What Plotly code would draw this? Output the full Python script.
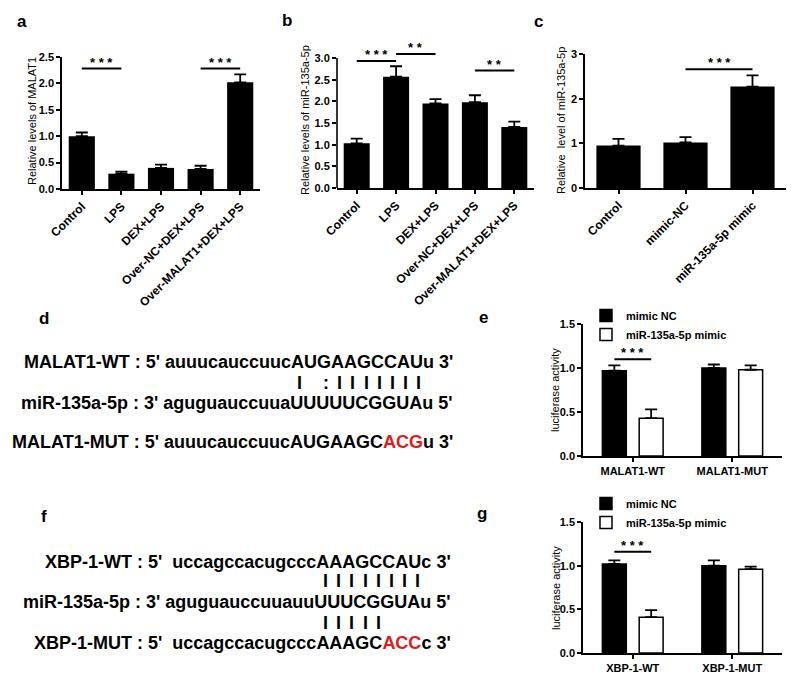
import plotly.graph_objects as go

W, H = 800, 680
FONT = "Liberation Sans, Arial, Helvetica, sans-serif"
RED = "#e41a1c"

# ---------------- data ----------------
groups_ab = ["Control", "LPS", "DEX+LPS", "Over-NC+DEX+LPS", "Over-MALAT1+DEX+LPS"]
malat1_mean = [1.00, 0.29, 0.40, 0.38, 2.02]
malat1_err = [0.07, 0.04, 0.06, 0.06, 0.15]

mir_b_mean = [1.03, 2.57, 1.95, 1.98, 1.41]
mir_b_err = [0.11, 0.24, 0.10, 0.16, 0.12]

groups_c = ["Control", "mimic-NC", "miR-135a-5p mimic"]
mir_c_mean = [0.95, 1.02, 2.27]
mir_c_err = [0.15, 0.12, 0.25]

groups_e = ["MALAT1-WT", "MALAT1-MUT"]
luc_e_nc = [0.97, 1.00]
luc_e_nc_err = [0.06, 0.04]
luc_e_mimic = [0.43, 0.98]
luc_e_mimic_err = [0.10, 0.05]

groups_g = ["XBP-1-WT", "XBP-1-MUT"]
luc_g_nc = [1.02, 1.00]
luc_g_nc_err = [0.04, 0.06]
luc_g_mimic = [0.41, 0.96]
luc_g_mimic_err = [0.08, 0.03]

legend_names = ["mimic NC", "miR-135a-5p mimic"]

y_titles = ["Relative levels of MALAT1", "Relative levels of miR-135a-5p",
            "Relative\u00a0 level of miR-135a-5p", "luciferase activity", "luciferase activity"]

# significance: (from index, to index, y value, label)
sig_ab_a = [(0, 1, 2.28, "* * *"), (3, 4, 2.28, "* * *")]
sig_ab_b = [(0, 1, 2.93, "* * *"), (1, 2, 3.09, "* *"), (3, 4, 2.71, "* *")]
sig_c = [(1, 2, 2.66, "* * *")]
sig_e = [(0, 1.10, "* * *")]
sig_g = [(0, 1.16, "* * *")]

# sequences (normal part, mutated red part, tail)
seq_d = [
    ("MALAT1-WT : 5' auuucauccuucAUGAAGCCAUu 3'", "", ""),
    ("miR-135a-5p : 3' aguguauccuuaUUUUUCGGUAu 5'", "", ""),
    ("MALAT1-MUT : 5' auuucauccuucAUGAAGC", "ACG", "u 3'"),
]
seq_f = [
    ("XBP-1-WT : 5'\u00a0 uccagccacugcccAAAGCCAUc 3'", "", ""),
    ("miR-135a-5p : 3' aguguauccuuauuUUUCGGUAu 5'", "", ""),
    ("XBP-1-MUT : 5'\u00a0 uccagccacugcccAAAGC", "ACC", "c 3'"),
]
pair_d = ["I", "", ":", "I", "I", "I", "I", "I", "I", "I"]
pair_f1 = ["I", "I", "I", "I", "I", "I", "I", "I"]
pair_f2 = ["I", "I", "I", "I", "I"]

# ---------------- layout helpers ----------------
def fx(px):
    return px / W


def fy(py):
    return 1 - py / H


def vdomain(py0, py_val, val, top):
    """domain so that value 0 sits at py0 and `val` at py_val, range up to `top`"""
    scale = (py0 - py_val) / val
    return [fy(py0), fy(py0 - top * scale)]


tickfont = dict(family=FONT, size=11, color="black", weight="bold")
xtickfont_rot = dict(family=FONT, size=12, color="black", weight="bold")
titlefont = dict(family=FONT, size=11, color="black")


def xaxis(dom, anchor, n, angle=0, font=tickfont):
    return dict(domain=dom, anchor=anchor, range=[-0.5, n - 0.5], showline=True,
                linecolor="black", linewidth=1.6, ticks="outside", ticklen=4,
                tickwidth=1.5, tickcolor="black", tickfont=font, tickangle=angle,
                showgrid=False, zeroline=False, automargin=False, fixedrange=True)


def yaxis(dom, anchor, rng, dtick, fmt, showline=True):
    return dict(domain=dom, anchor=anchor, range=rng, dtick=dtick, tick0=0,
                tickformat=fmt, showline=showline, linecolor="black", linewidth=1.6,
                ticks="outside", ticklen=4, tickwidth=1.5, tickcolor="black",
                tickfont=tickfont, showgrid=False, zeroline=False, automargin=False,
                fixedrange=True)


fig = go.Figure()

ebar = dict(type="data", symmetric=False, color="black", thickness=1.8, width=6)

# panel a
fig.add_trace(go.Bar(x=groups_ab, y=malat1_mean, width=0.66,
                     error_y=dict(ebar, array=malat1_err, arrayminus=[0] * 5),
                     marker=dict(color="black", line=dict(width=0)),
                     xaxis="x", yaxis="y", showlegend=False))
# panel b
fig.add_trace(go.Bar(x=groups_ab, y=mir_b_mean, width=0.66,
                     error_y=dict(ebar, array=mir_b_err, arrayminus=[0] * 5),
                     marker=dict(color="black", line=dict(width=0)),
                     xaxis="x2", yaxis="y2", showlegend=False))
# panel c
fig.add_trace(go.Bar(x=groups_c, y=mir_c_mean, width=0.66,
                     error_y=dict(ebar, array=mir_c_err, arrayminus=[0] * 3),
                     marker=dict(color="black", line=dict(width=0)),
                     xaxis="x3", yaxis="y3", showlegend=False))
# panel e
fig.add_trace(go.Bar(x=groups_e, y=luc_e_nc, name=legend_names[0],
                     error_y=dict(ebar, array=luc_e_nc_err, arrayminus=[0] * 2),
                     marker=dict(color="black", line=dict(color="black", width=1.5)),
                     xaxis="x4", yaxis="y4", legend="legend"))
fig.add_trace(go.Bar(x=groups_e, y=luc_e_mimic, name=legend_names[1],
                     error_y=dict(ebar, array=luc_e_mimic_err, arrayminus=[0] * 2),
                     marker=dict(color="white", line=dict(color="black", width=1.5)),
                     xaxis="x4", yaxis="y4", legend="legend"))
# panel g
fig.add_trace(go.Bar(x=groups_g, y=luc_g_nc, name=legend_names[0],
                     error_y=dict(ebar, array=luc_g_nc_err, arrayminus=[0] * 2),
                     marker=dict(color="black", line=dict(color="black", width=1.5)),
                     xaxis="x5", yaxis="y5", legend="legend2"))
fig.add_trace(go.Bar(x=groups_g, y=luc_g_mimic, name=legend_names[1],
                     error_y=dict(ebar, array=luc_g_mimic_err, arrayminus=[0] * 2),
                     marker=dict(color="white", line=dict(color="black", width=1.5)),
                     xaxis="x5", yaxis="y5", legend="legend2"))

BARGAP = 0.26
BARGROUPGAP = 0.35
half_off = (1 - BARGAP) / 4

# axes
dom_a_y = vdomain(189, 57, 2.5, 2.5)
dom_b_y = vdomain(188, 58, 3.0, 3.15)
dom_c_y = vdomain(188, 54, 3.0, 3.0)
dom_e_y = vdomain(456, 324, 1.5, 1.5)
dom_g_y = vdomain(653, 522, 1.5, 1.5)

legfont = dict(family=FONT, size=11, color="black", weight="bold")

layout = dict(
    width=W, height=H, margin=dict(l=0, r=0, t=0, b=0),
    paper_bgcolor="white", plot_bgcolor="white",
    barmode="group", bargap=BARGAP, bargroupgap=BARGROUPGAP,
    font=dict(family=FONT, color="black"),
    xaxis=xaxis([fx(62), fx(260)], "y", 5, -45, xtickfont_rot),
    yaxis=yaxis(dom_a_y, "x", [0, 2.5], 0.5, ".1f"),
    xaxis2=xaxis([fx(337), fx(534)], "y2", 5, -45, xtickfont_rot),
    yaxis2=yaxis(dom_b_y, "x2", [0, 3.15], 0.5, ".1f", showline=False),
    xaxis3=xaxis([fx(585), fx(786)], "y3", 3, -45, xtickfont_rot),
    yaxis3=yaxis(dom_c_y, "x3", [0, 3.0], 1, "d"),
    xaxis4=xaxis([fx(583), fx(782)], "y4", 2, 0),
    yaxis4=yaxis(dom_e_y, "x4", [0, 1.5], 0.5, ".1f"),
    xaxis5=xaxis([fx(583), fx(782)], "y5", 2, 0),
    yaxis5=yaxis(dom_g_y, "x5", [0, 1.5], 0.5, ".1f"),
    legend=dict(x=fx(586), y=fy(301), xanchor="left", yanchor="top", font=legfont,
                bgcolor="rgba(0,0,0,0)", tracegroupgap=0, itemwidth=30),
    legend2=dict(x=fx(586), y=fy(489), xanchor="left", yanchor="top", font=legfont,
                 bgcolor="rgba(0,0,0,0)", tracegroupgap=0, itemwidth=30),
)
fig.update_layout(**layout)

shapes = []
annotations = []

# y axis line for panel b (ends at 3.0 while range leaves room for brackets)
b_y3 = dom_b_y[0] + 3.0 / 3.15 * (dom_b_y[1] - dom_b_y[0])
shapes.append(dict(type="line", xref="x2 domain", x0=0, x1=0, yref="paper",
                   y0=dom_b_y[0], y1=b_y3, line=dict(color="black", width=1.6)))

# y axis titles (rotated text beside each axis)
title_pos = [(32, 121), (305, 120), (561, 121), (555, 390), (556, 588)]
for t, (px, py) in zip(y_titles, title_pos):
    annotations.append(dict(xref="paper", yref="paper", x=fx(px), y=fy(py), text=t,
                            textangle=-90, showarrow=False, xanchor="center",
                            yanchor="middle", font=titlefont))


def add_sig(xr, yr, x0, x1, yv, label):
    shapes.append(dict(type="line", xref=xr, yref=yr, x0=x0, x1=x1, y0=yv, y1=yv,
                       line=dict(color="black", width=2)))
    annotations.append(dict(xref=xr, yref=yr, x=(x0 + x1) / 2, y=yv, text=label,
                            showarrow=False, yanchor="bottom", yshift=-3,
                            font=dict(family=FONT, size=13, color="black", weight="bold")))


for i0, i1, yv, lab in sig_ab_a:
    add_sig("x", "y", i0, i1, yv, lab)
for i0, i1, yv, lab in sig_ab_b:
    add_sig("x2", "y2", i0, i1, yv, lab)
for i0, i1, yv, lab in sig_c:
    add_sig("x3", "y3", i0, i1, yv, lab)
for gi, yv, lab in sig_e:
    add_sig("x4", "y4", gi - half_off, gi + half_off, yv, lab)
for gi, yv, lab in sig_g:
    add_sig("x5", "y5", gi - half_off, gi + half_off, yv, lab)

# panel letters
letters = [("a", 22, 21), ("b", 287, 20), ("c", 538, 21), ("d", 44, 318),
           ("e", 483, 317), ("f", 44, 516), ("g", 482, 513)]
for t, px, py in letters:
    annotations.append(dict(xref="paper", yref="paper", x=fx(px), y=fy(py), text=t,
                            showarrow=False, xanchor="center", yanchor="middle",
                            font=dict(family=FONT, size=17, color="black", weight="bold")))

SEQFONT = dict(family=FONT, size=18, color="black", weight="bold")


def seq_text(parts):
    base, red, tail = parts
    if red:
        return base + "<span style='color:%s'>%s</span>" % (RED, red) + tail
    return base


for parts, py, right in zip(seq_d, [362, 403, 442], [455, 455, 455]):
    annotations.append(dict(xref="paper", yref="paper", x=fx(right), y=fy(py),
                            text=seq_text(parts), showarrow=False, xanchor="right",
                            yanchor="middle", font=SEQFONT))
for parts, py, right in zip(seq_f, [562, 602, 643], [453, 453, 453]):
    annotations.append(dict(xref="paper", yref="paper", x=fx(right), y=fy(py),
                            text=seq_text(parts), showarrow=False, xanchor="right",
                            yanchor="middle", font=SEQFONT))

# base-pairing marks (letter positions of the paired nucleotides)
pair_d_x = [299, 312, 326, 339, 352, 366, 379, 392, 405, 418]
pair_f_x = [325, 338, 351, 365, 378, 391, 404, 417]
for t, px in zip(pair_d, pair_d_x):
    if t:
        annotations.append(dict(xref="paper", yref="paper", x=fx(px), y=fy(383), text=t,
                                showarrow=False, xanchor="center", yanchor="middle",
                                font=SEQFONT))
for t, px in zip(pair_f1, pair_f_x):
    annotations.append(dict(xref="paper", yref="paper", x=fx(px), y=fy(581), text=t,
                            showarrow=False, xanchor="center", yanchor="middle",
                            font=SEQFONT))
for t, px in zip(pair_f2, pair_f_x):
    annotations.append(dict(xref="paper", yref="paper", x=fx(px), y=fy(623), text=t,
                            showarrow=False, xanchor="center", yanchor="middle",
                            font=SEQFONT))

fig.update_layout(shapes=shapes, annotations=annotations)
fig.write_html("out.html", config={"displayModeBar": False},
               post_script="document.body.style.margin='0px';document.body.style.overflow='hidden';")
